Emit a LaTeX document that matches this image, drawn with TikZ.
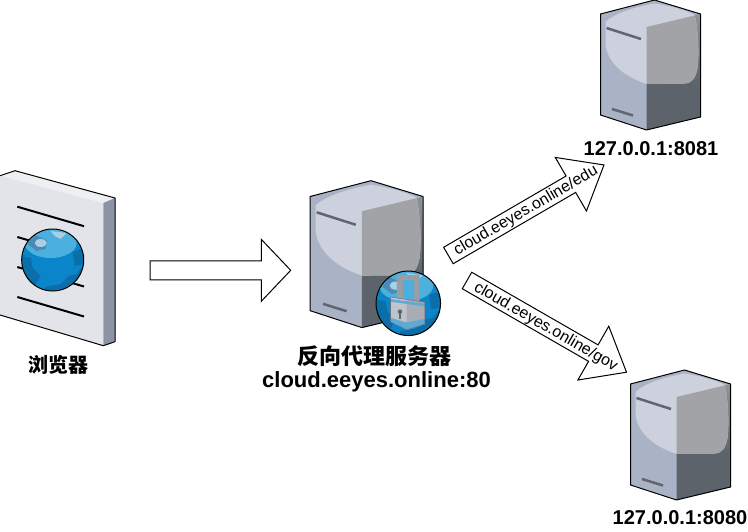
\documentclass[tikz,border=0pt]{standalone}
\usepackage{fontspec}
\setmainfont{Liberation Sans}
\newfontfamily\cjk{Noto Sans CJK SC}
\usepackage{xcolor}
\usetikzlibrary{shapes.arrows}

\definecolor{facelight}{HTML}{CDD1DD}
\definecolor{faceleft}{HTML}{AAB3C5}
\definecolor{facegray}{HTML}{A2A3A7}
\definecolor{faceedge}{HTML}{8F9298}
\definecolor{facedark}{HTML}{5C636B}
\definecolor{slotgray}{HTML}{5F6670}
\definecolor{docfront}{HTML}{E3E4EA}
\definecolor{doctop}{HTML}{EEEFF3}
\definecolor{docside}{HTML}{8B93A5}
\definecolor{globebase}{HTML}{0A85C9}
\definecolor{globecap}{HTML}{4BB0DE}
\definecolor{globedark}{HTML}{0C6EA8}
\definecolor{globeland}{HTML}{4A8BB5}
\definecolor{globeshine}{HTML}{A8CFE6}
\definecolor{lockbody}{HTML}{BFC3CC}
\definecolor{lockshade}{HTML}{9A9DA4}
\definecolor{lockband}{HTML}{5FA9D6}

\tikzset{
    pics/server/.style={code={
        \fill[faceleft] (0,14) -- (54,0) -- (100,14) -- (100,117) -- (46,130) -- (0,115) -- cycle;
        \fill[facedark] (46,84) -- (100,84) -- (100,117) -- (46,130) -- cycle;
        \shade[top color=faceedge, bottom color=facedark] (46,27) -- (100,14) -- (100,84) -- (46,84) -- cycle;
        \fill[facelight] (5,22) .. controls (15,12) and (40,6) .. (54,3.5)
            .. controls (70,6) and (85,10) .. (94,15)
            .. controls (97,25) and (99,50) .. (97,68)
            .. controls (95,78) and (92,83) .. (84,83.5)
            -- (46,84) .. controls (28,78) and (8,66) .. (5,45) -- cycle;
        \fill[facegray] (46,27) -- (94,15.5) .. controls (97,25) and (99,50) .. (97,68)
            .. controls (95,78) and (92,83) .. (84,83.5) -- (46,84) -- cycle;
        \draw[slotgray, line width=2.5pt] (6,28) -- (40.5,39);
        \draw[slotgray, line width=2.5pt] (11.5,109) -- (32.5,115.5);
        \draw[line width=1pt, line join=round] (0,14) -- (54,0) -- (100,14) -- (100,117) -- (46,130) -- (0,115) -- cycle;
    }},
    pics/browserdoc/.style={code={
        \fill[doctop] (0,175.7) -- (15,170.7) -- (115,198) -- (103.3,203) -- cycle;
        \fill[docfront] (0,175.7) -- (103.3,203) -- (103.3,345.7) -- (0,315) -- cycle;
        \fill[docside] (103.3,203) -- (115,198) -- (115,341.7) -- (103.3,345.7) -- cycle;
        \draw[line width=1pt, line join=round] (0,175.7) -- (15,170.7) -- (115,198) -- (115,341.7) -- (103.3,345.7) -- (0,315);
        \foreach \liney in {206.7,237,267,297} {
            \draw[line width=2pt] (17.3,\liney) -- (84,\liney+19.5);
        }
    }},
    pics/globe/.style={code={
        \begin{scope}
            \clip (0,0) circle (31);
            \fill[globebase] (0,0) circle (31);
            \fill[globecap] (-2,-17) ellipse (26 and 15);
            \fill[globedark] (-33,-4) -- (-22,-2) -- (-20,8) -- (-12,16) -- (-18,26) -- (-33,20) -- cycle;
            \fill[globedark] (-8,27) -- (8,24) -- (16,16) -- (24,14) -- (31,4) -- (31,32) -- (-8,32) -- cycle;
            \fill[globedark] (20,-8) -- (31,-12) -- (31,4) -- (22,6) -- cycle;
            \fill[globeland] (-25,-16) -- (-18,-25) -- (-6,-20) -- (-7,-11) -- (-16,-9) -- cycle;
            \fill[globeshine] (-12,-17) ellipse (6 and 4);
            \fill[globeshine] (-2,-29) -- (14,-27) -- (8,-21) -- (2,-24) -- cycle;
        \end{scope}
        \draw[line width=1pt] (0,0) circle (31);
    }},
    pics/padlock/.style={code={
        \fill[lockshade, even odd rule] (-11,-27) -- (11,-27) -- (11,0) -- (-11,0) -- cycle
            (-5,-22) -- (5.5,-22) -- (5.5,-3) -- (-5,-5) -- cycle;
        \fill[globecap] (-5,-22) -- (5.5,-22) -- (5.5,-3) -- (-5,-5) -- cycle;
        \fill[lockbody] (-17,-6) -- (16,-1) -- (16,20) -- (-1.5,25.5) -- (-17,18) -- cycle;
        \fill[lockshade!60!lockbody] (-1.5,-3.5) -- (16,-1) -- (16,20) -- (-1.5,25.5) -- cycle;
        \fill[lockband] (-17,-4) -- (16,0.5) -- (16,3) -- (-17,-1.5) -- cycle;
        \fill[lockband] (-17,14) -- (-1.5,18.5) -- (16,15) -- (16,20) -- (-1.5,25.5) -- (-17,18) -- cycle;
        \fill[slotgray] (-8,8) circle (2.2);
        \fill[slotgray] (-9,8) rectangle (-7,15);
        \draw[slotgray, line width=0.4pt] (-17,-6) -- (16,-1) -- (16,20) -- (-1.5,25.5) -- (-17,18) -- cycle;
    }},
    blockarrow/.style={single arrow, draw, line width=1pt, fill=white, inner sep=0pt, outer sep=0pt,
        text height=0pt, text depth=0pt, text width=0pt, inner ysep=9pt,
        single arrow head extend=21.5pt, single arrow tip angle=#1},
    iplabel/.style={font=\fontsize{20}{22}\selectfont\bfseries, inner sep=0pt},
    urllabel/.style={font=\fontsize{16}{18}\selectfont, inner sep=0pt}
}

\begin{document}
\begin{tikzpicture}[x=1pt, y=-1pt]
\useasboundingbox (0,0) rectangle (748,532);

\pic at (0,0) {browserdoc};
\pic at (52.7,260) {globe};
\node[iplabel] (browser) at (58,365) {\cjk 浏览器};

\pic[scale=1.13] at (310,180.7) {server};
\pic[scale=1.04] at (408.3,303.3) {globe};
\pic[scale=1.04] at (408.3,303.3) {padlock};
\node[iplabel, font=\fontsize{22}{24}\selectfont\bfseries] (proxy) at (374,356) {\cjk 反向代理服务器};
\node[iplabel, font=\fontsize{22}{24}\selectfont\bfseries] (proxyaddr) at (376.5,382) {cloud.eeyes.online:80};

\pic at (600.5,0) {server};
\node[iplabel] (edusrv) at (651,149) {127.0.0.1:8081};

\pic at (630.5,370) {server};
\node[iplabel] (govsrv) at (680,518) {127.0.0.1:8080};

\node[blockarrow=93, minimum height=140.7pt, anchor=tail] (request) at (150,270.3) {};
\node[blockarrow=78, minimum height=180pt, rotate=30.2, anchor=tail] (eduarrow) at (448.4,255.5) {};
\node[blockarrow=78, minimum height=184pt, rotate=-29.9, anchor=tail] (govarrow) at (467,280.5) {};

\node[urllabel, rotate=30.2] (edutext) at (526,211) {cloud.eeyes.online/edu};
\node[urllabel, rotate=-29.9] (govtext) at (545.7,327) {cloud.eeyes.online/gov};
\end{tikzpicture}
\end{document}
